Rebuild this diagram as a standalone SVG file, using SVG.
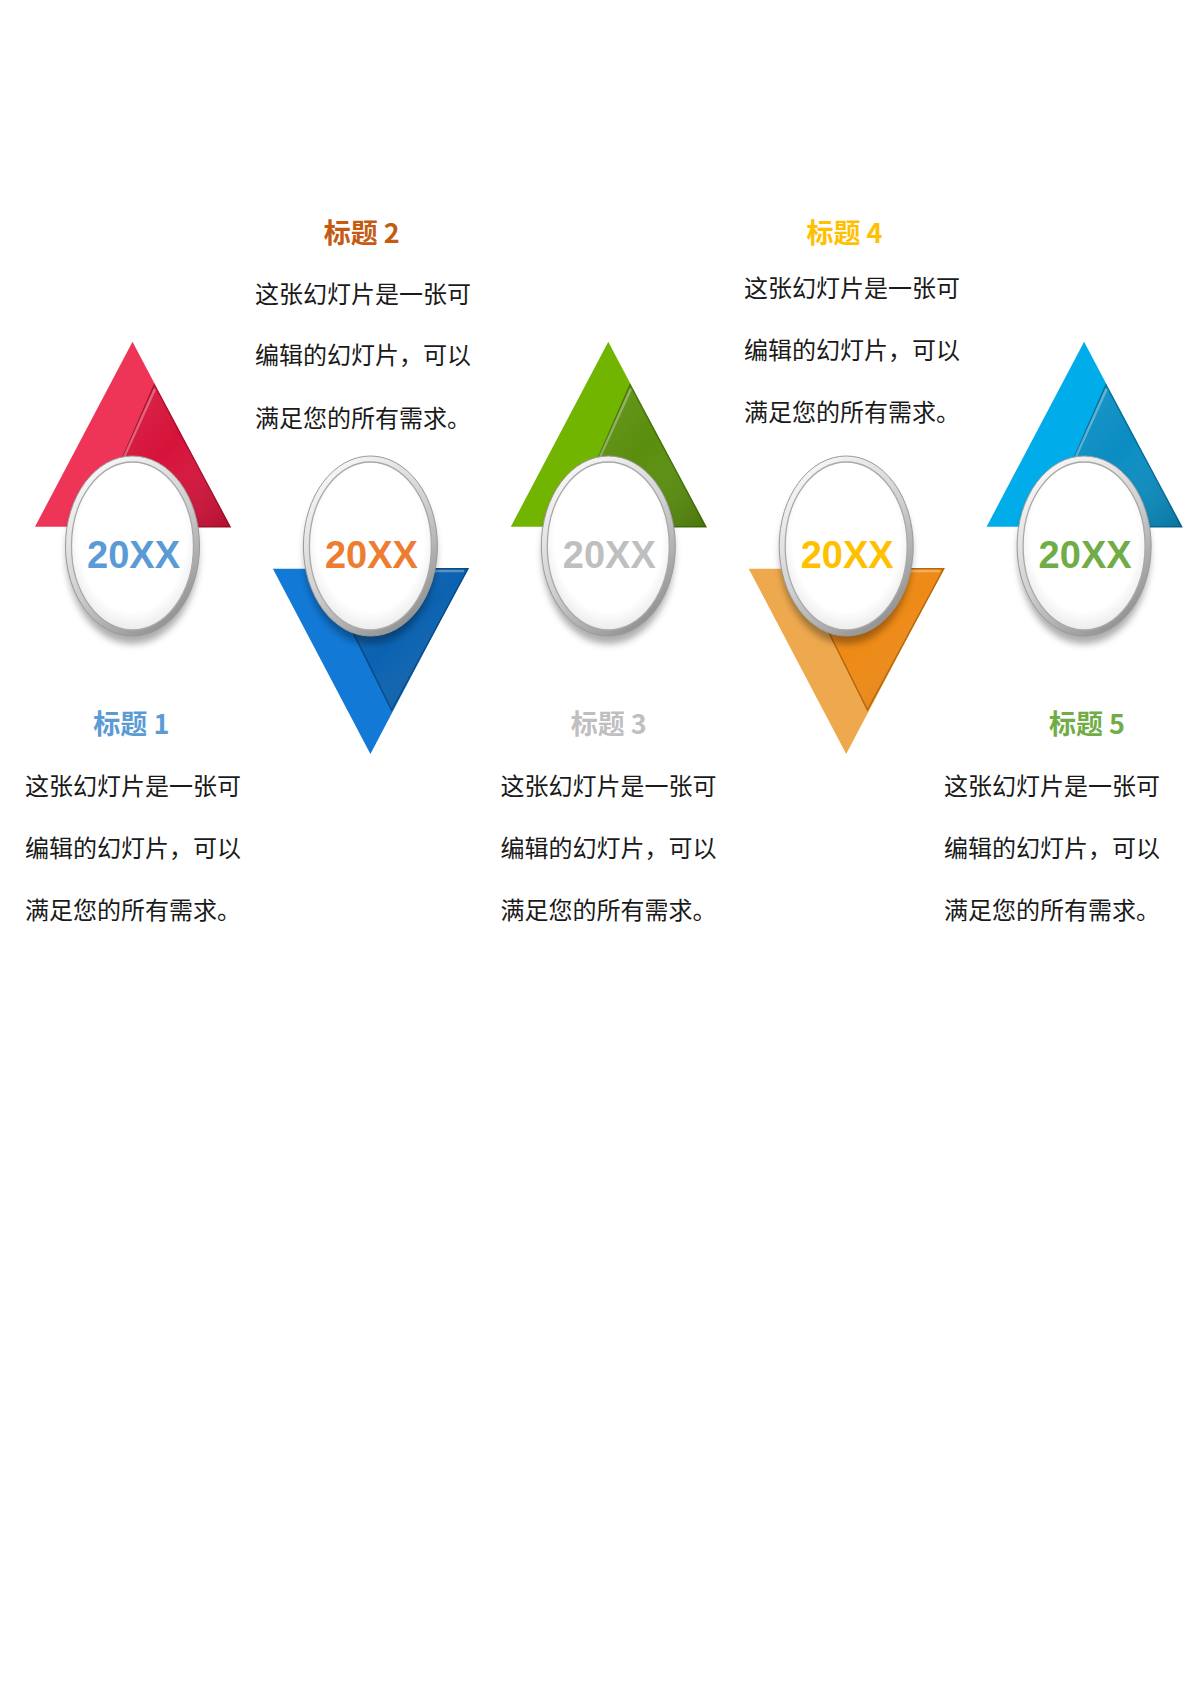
<svg xmlns="http://www.w3.org/2000/svg" xmlns:xlink="http://www.w3.org/1999/xlink" width="1191" height="1684" viewBox="0 0 1191 1684">
<style>
.title{font-family:"Noto Sans CJK SC","Liberation Sans",sans-serif;font-size:27px;font-weight:bold;text-anchor:middle}
.body{font-family:"Noto Sans CJK SC","Liberation Sans",sans-serif;font-size:24px;fill:#1a1a1a}
.year{font-family:"Liberation Sans","Noto Sans",sans-serif;font-size:38px;font-weight:bold;text-anchor:middle}
.hl{fill:none;stroke:#ffffff;stroke-opacity:0.3;stroke-width:2.5}
</style>
<defs>
<filter id="blur" x="-20%" y="-20%" width="140%" height="140%"><feGaussianBlur stdDeviation="3.5"/></filter>
<linearGradient id="ring" x1="0.2" y1="0" x2="0.8" y2="1">
<stop offset="0" stop-color="#fbfbfb"/>
<stop offset="0.5" stop-color="#d0d0d0"/>
<stop offset="1" stop-color="#8a8a8a"/>
</linearGradient>
<radialGradient id="face" cx="0.5" cy="0.45" r="0.55">
<stop offset="0.8" stop-color="#ffffff"/>
<stop offset="1" stop-color="#ececec"/>
</radialGradient>
<linearGradient id="shade" x1="0" y1="0" x2="1" y2="1">
<stop offset="0" stop-color="#ffffff" stop-opacity="0.12"/>
<stop offset="0.5" stop-color="#ffffff" stop-opacity="0"/>
<stop offset="1" stop-color="#000000" stop-opacity="0.18"/>
</linearGradient>
<g id="medal">
<ellipse cx="0" cy="8" rx="66" ry="90" fill="#000" fill-opacity="0.32" filter="url(#blur)"/>
<ellipse cx="0" cy="0" rx="67" ry="90" fill="url(#ring)" stroke="#9a9a9a" stroke-width="1"/>
<ellipse cx="0" cy="0" rx="61" ry="84" fill="url(#face)" stroke="#a9a9a9" stroke-width="1.3"/>
</g>
</defs>
<rect width="1191" height="1684" fill="#ffffff"/>

<g id="item1">
<polygon points="132.5,341.7 230,526.7 35,526.7" fill="#EF3557"/>
<polygon points="154.3,385 230,526.7 92.5,526.7" fill="#D6133A" stroke="#A90E2C" stroke-width="1.5"/>
<polygon points="154.3,385 230,526.7 92.5,526.7" fill="url(#shade)"/>
<polyline class="hl" points="93.5,524 155,389"/>
<use href="#medal" x="132.5" y="546"/>
<text class="year" x="133.5" y="568" fill="#5B9BD5">20XX</text>
<text class="title" x="131.3" y="734" fill="#5B9BD5">标题 1</text>
<text class="body" x="25" y="795">这张幻灯片是一张可</text>
<text class="body" x="25" y="857">编辑的幻灯片，可以</text>
<text class="body" x="25" y="919">满足您的所有需求。</text>
</g>

<g id="item2">
<polygon points="272.9,568.8 467.9,568.8 370.4,754" fill="#1279D6"/>
<polygon points="321.4,568.8 467.9,568.8 391.7,710" fill="#0B62B0" stroke="#074A86" stroke-width="1.5"/>
<polygon points="321.4,568.8 467.9,568.8 391.7,710" fill="url(#shade)"/>
<polyline class="hl" points="323,571 464,571"/>
<use href="#medal" x="370.4" y="546"/>
<text class="year" x="371.4" y="568" fill="#ED7D31">20XX</text>
<text class="title" x="361.7" y="243" fill="#C55A11">标题 2</text>
<text class="body" x="255" y="303">这张幻灯片是一张可</text>
<text class="body" x="255" y="364">编辑的幻灯片，可以</text>
<text class="body" x="255" y="427">满足您的所有需求。</text>
</g>

<g id="item3">
<polygon points="608.3,341.7 705.8,526.7 510.8,526.7" fill="#72B500"/>
<polygon points="630.1,385 705.8,526.7 568.3,526.7" fill="#5A8E0D" stroke="#44700A" stroke-width="1.5"/>
<polygon points="630.1,385 705.8,526.7 568.3,526.7" fill="url(#shade)"/>
<polyline class="hl" points="569.3,524 630.8,389"/>
<use href="#medal" x="608.3" y="546"/>
<text class="year" x="609.3" y="568" fill="#BFBFBF">20XX</text>
<text class="title" x="608.7" y="734" fill="#BFBFBF">标题 3</text>
<text class="body" x="500.5" y="795">这张幻灯片是一张可</text>
<text class="body" x="500.5" y="857">编辑的幻灯片，可以</text>
<text class="body" x="500.5" y="919">满足您的所有需求。</text>
</g>

<g id="item4">
<polygon points="748.7,568.8 943.7,568.8 846.2,754" fill="#EEA94E"/>
<polygon points="797.2,568.8 943.7,568.8 867.5,710" fill="#EE8A16" stroke="#B86608" stroke-width="1.5"/>
<polygon points="797.2,568.8 943.7,568.8 867.5,710" fill="url(#shade)"/>
<polyline class="hl" points="799,571 940,571"/>
<use href="#medal" x="846.2" y="546"/>
<text class="year" x="847.2" y="568" fill="#FFC000">20XX</text>
<text class="title" x="844.5" y="243" fill="#FFC000">标题 4</text>
<text class="body" x="744" y="297">这张幻灯片是一张可</text>
<text class="body" x="744" y="358.5">编辑的幻灯片，可以</text>
<text class="body" x="744" y="421">满足您的所有需求。</text>
</g>

<g id="item5">
<polygon points="1084.1,341.7 1181.6,526.7 986.6,526.7" fill="#00ADEA"/>
<polygon points="1105.9,385 1181.6,526.7 1044.1,526.7" fill="#0A8DC2" stroke="#076C96" stroke-width="1.5"/>
<polygon points="1105.9,385 1181.6,526.7 1044.1,526.7" fill="url(#shade)"/>
<polyline class="hl" points="1045.1,524 1106.6,389"/>
<use href="#medal" x="1084.1" y="546"/>
<text class="year" x="1085.1" y="568" fill="#70AD47">20XX</text>
<text class="title" x="1087" y="734" fill="#70AD47">标题 5</text>
<text class="body" x="944" y="795">这张幻灯片是一张可</text>
<text class="body" x="944" y="857">编辑的幻灯片，可以</text>
<text class="body" x="944" y="919">满足您的所有需求。</text>
</g>
</svg>
